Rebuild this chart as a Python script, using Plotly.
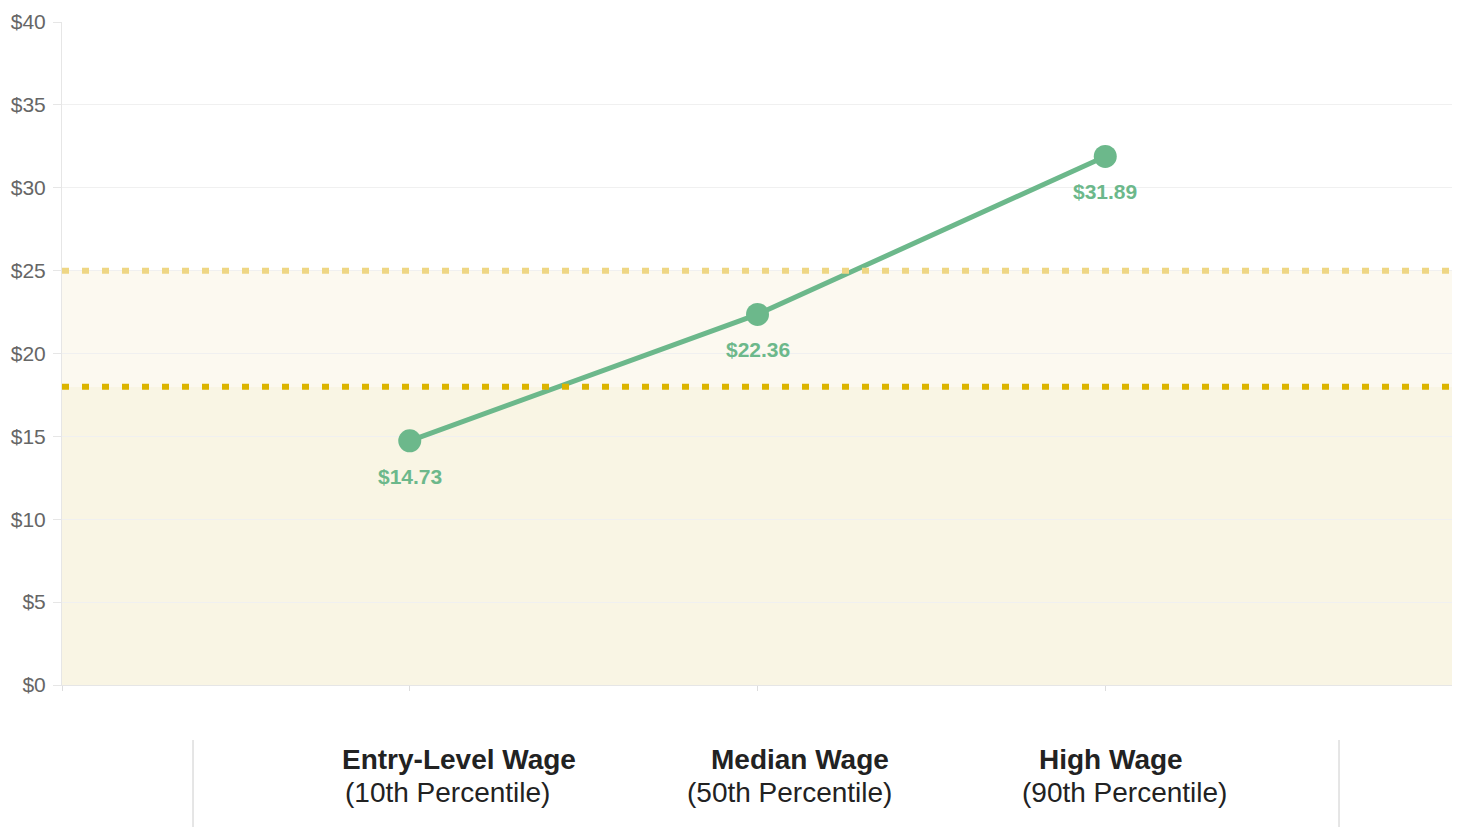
import plotly.graph_objects as go

categories = ["Entry-Level Wage", "Median Wage", "High Wage"]
subtitles = ["(10th Percentile)", "(50th Percentile)", "(90th Percentile)"]
wages = [14.73, 22.36, 31.89]
wage_labels = ["$14.73", "$22.36", "$31.89"]
band_upper = 25
band_lower = 18
y_ticks = [0, 5, 10, 15, 20, 25, 30, 35, 40]
y_tick_text = ["$0", "$5", "$10", "$15", "$20", "$25", "$30", "$35", "$40"]

x_idx = list(range(len(categories)))
GREEN = "#6cb88b"
FONT = "Liberation Sans, Arial, Helvetica, sans-serif"

# page body has 8px margin; plot area target on screen: x 62..1453, y 22..685
ML, MR, MT, MB = 54, 15, 14, 150
PW = 1460 - ML - MR
PH = 827 - MT - MB


def px_x(sx):
    return (sx - 8 - ML) / PW


def px_y(sy):
    return 1 - (sy - 8 - MT) / PH


fig = go.Figure()

fig.add_trace(go.Scatter(
    x=x_idx, y=wages, mode="lines+markers",
    line=dict(color=GREEN, width=5),
    marker=dict(size=23, color=GREEN),
    hoverinfo="skip", showlegend=False,
))

shapes = [
    dict(type="rect", xref="x", yref="y", x0=-1, x1=3, y0=band_lower, y1=band_upper,
         fillcolor="#fcf9f0", line=dict(width=0), layer="below"),
    dict(type="rect", xref="x", yref="y", x0=-1, x1=3, y0=0, y1=band_lower,
         fillcolor="#f9f5e4", line=dict(width=0), layer="below"),
    dict(type="line", xref="x", yref="y", x0=-1, x1=3, y0=band_upper, y1=band_upper,
         line=dict(color="#eed684", width=6, dash="7px,13px")),
    dict(type="line", xref="x", yref="y", x0=-1, x1=3, y0=band_lower, y1=band_lower,
         line=dict(color="#dbb400", width=6, dash="7px,13px")),
    dict(type="line", xref="paper", yref="paper", x0=px_x(193), x1=px_x(193),
         y0=px_y(740), y1=px_y(835), line=dict(color="#cccccc", width=1)),
    dict(type="line", xref="paper", yref="paper", x0=px_x(1339), x1=px_x(1339),
         y0=px_y(740), y1=px_y(835), line=dict(color="#cccccc", width=1)),
]

annotations = []
for i, (v, t) in enumerate(zip(wages, wage_labels)):
    annotations.append(dict(x=i, y=v, xref="x", yref="y", text="<b>" + t + "</b>",
                            showarrow=False, yanchor="top", yshift=-22,
                            font=dict(color=GREEN, size=21, family=FONT)))

title_x = [459, 800, 1111]
sub_x = [447, 789, 1124]
for i, (c, s) in enumerate(zip(categories, subtitles)):
    annotations.append(dict(x=px_x(title_x[i]), y=px_y(759), xref="paper", yref="paper",
                            text="<b>" + c + "</b>", showarrow=False,
                            xanchor="center", yanchor="middle",
                            font=dict(color="#222222", size=28, family=FONT)))
    annotations.append(dict(x=px_x(sub_x[i]), y=px_y(792), xref="paper", yref="paper",
                            text=s, showarrow=False,
                            xanchor="center", yanchor="middle",
                            font=dict(color="#222222", size=28, family=FONT)))

fig.update_layout(
    width=1460, height=827,
    margin=dict(l=ML, r=MR, t=MT, b=MB, autoexpand=False),
    paper_bgcolor="white", plot_bgcolor="white",
    shapes=shapes, annotations=annotations,
    xaxis=dict(range=[-1, 3], tickvals=[-1, 0, 1, 2, 3], showticklabels=False,
               ticks="outside", ticklen=5, tickcolor="#dddddd", automargin=False,
               showgrid=False, zeroline=False, showline=True, linecolor="#e6e6e6", linewidth=1),
    yaxis=dict(range=[0, 40], tickvals=y_ticks, ticktext=y_tick_text,
               ticks="outside", ticklen=8, tickcolor="#e6e6e6", automargin=False,
               ticklabelstandoff=3,
               showgrid=True, gridcolor="#f0f0f0", gridwidth=1, zeroline=False,
               showline=True, linecolor="#e6e6e6", linewidth=1,
               tickfont=dict(color="#666666", size=21, family=FONT)),
    font=dict(family=FONT),
)

fig.write_html("out.html")
